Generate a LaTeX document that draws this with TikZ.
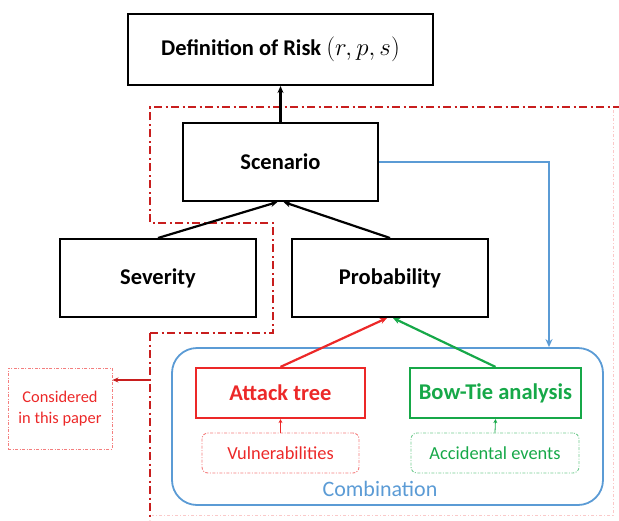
\documentclass[tikz,border=0pt]{standalone}
\usepackage{fontspec}
\setmainfont{Carlito}
\usetikzlibrary{arrows.meta}
\definecolor{cred}{RGB}{236,40,40}
\definecolor{cdred}{RGB}{200,30,30}
\definecolor{cgreen}{RGB}{22,168,72}
\definecolor{cblue}{RGB}{91,155,213}
\tikzset{
  blackbox/.style={draw=black,line width=2pt,inner sep=0pt,font=\bfseries\fontsize{22.5}{25}\selectfont},
  methodbox/.style={line width=2.2pt,inner sep=0pt,font=\bfseries\fontsize{22.5}{25}\selectfont},
  inputbox/.style={line width=0.9pt,inner sep=0pt,rounded corners=6pt,dash pattern=on 3pt off 1.5pt on 1pt off 1.5pt,font=\fontsize{18.4}{20}\selectfont},
  region/.style={draw=cdred,line width=2pt,dash pattern=on 8pt off 3.5pt on 2pt off 3.5pt},
  faint/.style={draw=cred!25,line width=0.8pt,dash pattern=on 3pt off 2pt on 1pt off 2pt},
  arr/.style={-{Stealth[length=7pt,width=6pt]},line width=2.2pt}
}
\begin{document}
\begin{tikzpicture}[x=1pt,y=-1pt]
\useasboundingbox (0,0) rectangle (619,520);
% region
\draw[region] (150,333) -- (273,333) -- (273,223) -- (150,223) -- (150,107) -- (619,107);
\draw[region] (150,333) -- (150,520);
\draw[faint] (613,110) -- (613,515) -- (152,515);
% nodes
\node[blackbox,minimum width=305pt,minimum height=71pt] (def) at (280.5,49.5) {Definition of Risk {\fontsize{27}{29}\selectfont$(r,p,s)$}};
\node[blackbox,minimum width=195pt,minimum height=78pt] (scen) at (280.5,162) {Scenario};
\node[blackbox,minimum width=196pt,minimum height=78pt] (sev) at (158,278) {Severity};
\node[blackbox,minimum width=196pt,minimum height=78pt] (prob) at (390,278) {Probability};
\node[draw=cblue,line width=1.8pt,rounded corners=25pt,minimum width=431pt,minimum height=157pt,inner sep=0pt] (comb) at (387.5,426.5) {};
\node[text=cblue,font=\fontsize{22}{24}\selectfont] (combl) at (380,489) {Combination};
\node[methodbox,draw=cred,text=cred,minimum width=169pt,minimum height=50pt] (att) at (280.5,393) {Attack tree};
\node[methodbox,draw=cgreen,text=cgreen,minimum width=171pt,minimum height=50pt] (bow) at (495.5,393) {Bow-Tie analysis};
\node[inputbox,draw=cred!60,text=cred,minimum width=157pt,minimum height=40pt] (vul) at (280.5,453) {Vulnerabilities};
\node[inputbox,draw=cgreen!60,text=cgreen,minimum width=168pt,minimum height=40pt] (acc) at (495,453) {Accidental events};
\node[inputbox,rounded corners=0pt,draw=cred!60,text=cred,minimum width=104pt,minimum height=81pt,align=center,font=\fontsize{16.4}{21}\selectfont] (cons) at (60,408.5) {Considered\\in this paper};
% connectors
\draw[arr] (scen.north) -- (def.south);
\draw[arr] (sev.north) -- ([xshift=-3pt]scen.south);
\draw[arr] (prob.north) -- ([xshift=3pt]scen.south);
\draw[arr,cred] (att.north) -- ([xshift=-3pt]prob.south);
\draw[arr,cgreen] (bow.north) -- ([xshift=3pt]prob.south);
\coordinate (bl) at (549,0);
\draw[cblue,line width=1.8pt,-{Stealth[length=8pt,width=7pt,open]}] (scen.east) -| (bl |- comb.north);
\draw[cred,line width=0.8pt,-{Stealth[length=4pt,width=4pt]}] (vul.north) -- (att.south);
\draw[cgreen,line width=0.8pt,-{Stealth[length=4pt,width=4pt]}] (acc.north) -- (bow.south);
\coordinate (cst) at (150,380);
\draw[cdred,line width=1.5pt,-{Stealth[length=6pt,width=5pt]}] (cst) -- (cons.east |- cst);
\end{tikzpicture}
\end{document}
